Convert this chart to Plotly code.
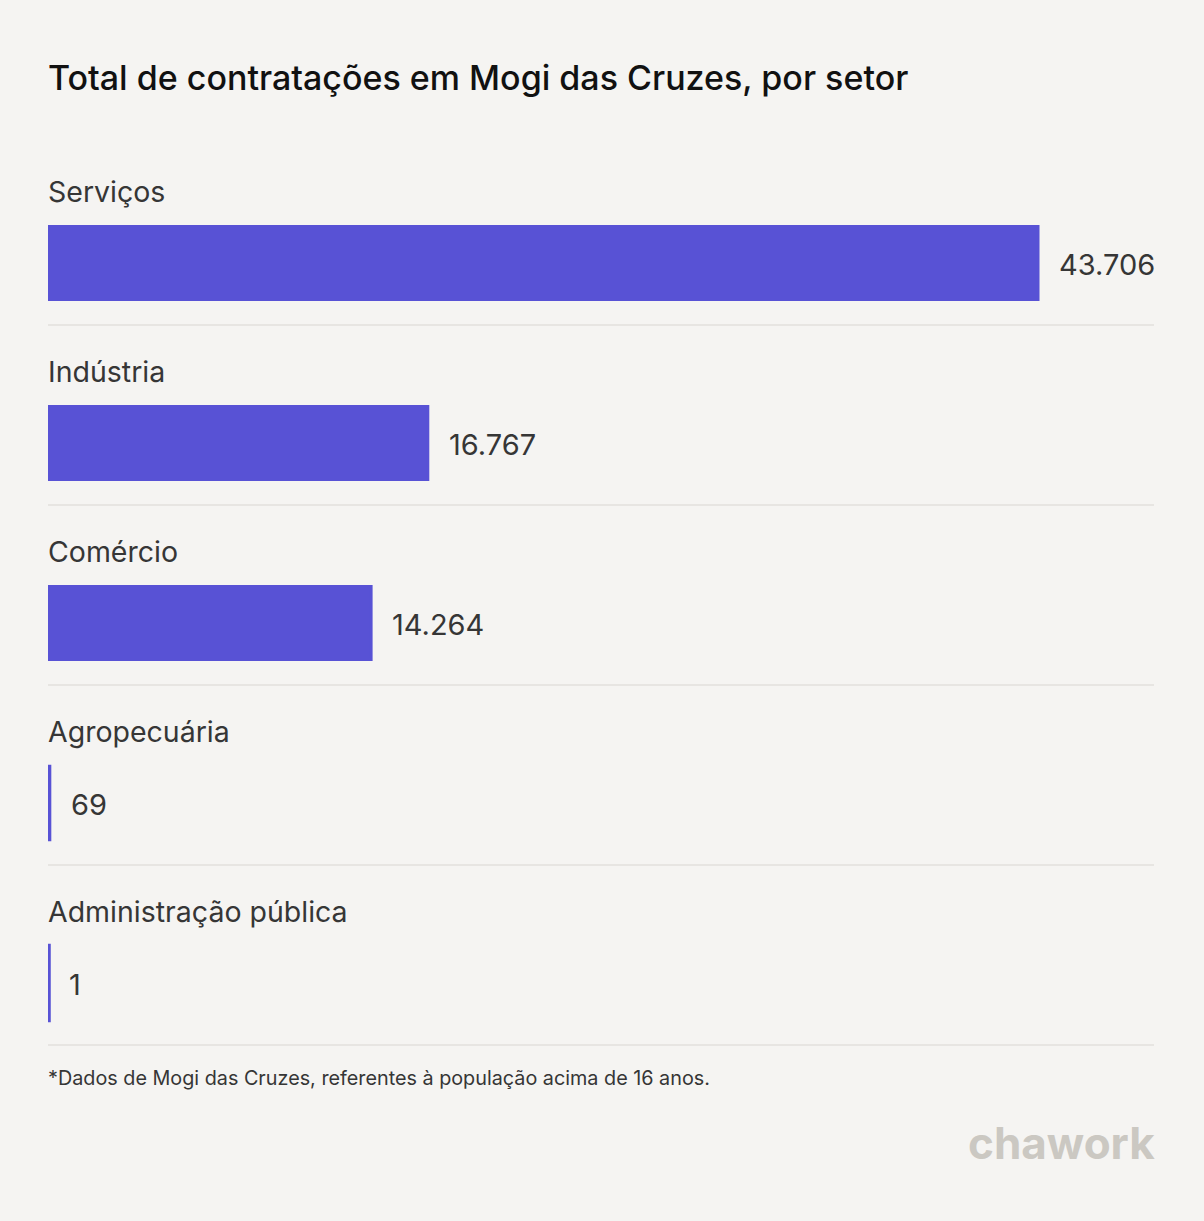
import plotly.graph_objects as go

# data
setores = ["Serviços", "Indústria", "Comércio", "Agropecuária", "Administração pública"]
contratacoes = [43706, 16767, 14264, 69, 1]

bg = "#f5f4f2"
bar_color = "#5852d5"
text_color = "#363636"
font_family = "Inter, 'Open Sans', sans-serif"

W, H = 1204, 1221
left, right = 48, 50
top, bottom = 173, 148
plot_w = W - left - right
x_max = contratacoes[0] * plot_w / 990

fig = go.Figure()

fig.add_trace(go.Bar(
    x=contratacoes, y=list(range(len(setores))),
    orientation="h",
    width=73 / 180,
    # outline gives the tiny bars a visible minimum width
    marker=dict(color=bar_color, line=dict(color=bar_color, width=[3, 3, 3, 3.5, 5.5])),
    hoverinfo="skip",
))

annotations = []
shapes = []
for i, (s, v) in enumerate(zip(setores, contratacoes)):
    # category label above bar
    annotations.append(dict(
        x=0, xref="paper", y=i, yref="y", text=s, showarrow=False,
        xanchor="left", yanchor="middle", yshift=72, xshift=-2,
        font=dict(size=28.5, color=text_color, family=font_family),
    ))
    # value label to the right of bar
    annotations.append(dict(
        x=v, xref="x", y=i, yref="y", text=f"{v:,}".replace(",", "."),
        showarrow=False, xanchor="left", yanchor="middle", xshift=19, yshift=-1,
        font=dict(size=29, color=text_color, family=font_family),
    ))
    # separator line below row
    shapes.append(dict(
        type="line", xref="paper", x0=0, x1=1, yref="y", y0=i + 62 / 180, y1=i + 62 / 180,
        line=dict(color="#e2e0dd", width=1.5),
    ))

annotations.append(dict(
    x=0, xref="paper", y=1078, yref="paper", text="*Dados de Mogi das Cruzes, referentes à população acima de 16 anos.",
    showarrow=False, xanchor="left", yanchor="middle", xshift=-2,
    font=dict(size=19.8, color=text_color, family=font_family),
))
annotations.append(dict(
    x=1, xref="paper", y=1143, yref="paper", text="<b>chawork</b>",
    showarrow=False, xanchor="right", yanchor="middle", xshift=3,
    font=dict(size=44, color="#cbc8c2", family=font_family),
))

# convert pixel y positions for paper annotations
for a in annotations:
    if a.get("yref") == "paper":
        a["y"] = (H - bottom - a["y"]) / (H - top - bottom)

fig.update_layout(
    width=W, height=H,
    paper_bgcolor=bg, plot_bgcolor=bg,
    margin=dict(l=left, r=right, t=top, b=bottom, pad=0),
    showlegend=False,
    title=dict(
        text="Total de contratações em Mogi das Cruzes, por setor",
        x=left / W, xanchor="left", y=1 - 78 / H, yanchor="middle",
        font=dict(size=34, color="#111111", family=font_family, weight=500),
    ),
    xaxis=dict(range=[0, x_max], visible=False, fixedrange=True),
    yaxis=dict(range=[len(setores) - 0.5, -0.5], visible=False, fixedrange=True),
    annotations=annotations,
    shapes=shapes,
)

fig.write_html("out.html", config={"displayModeBar": False},
               post_script="document.body.style.margin='0';")
